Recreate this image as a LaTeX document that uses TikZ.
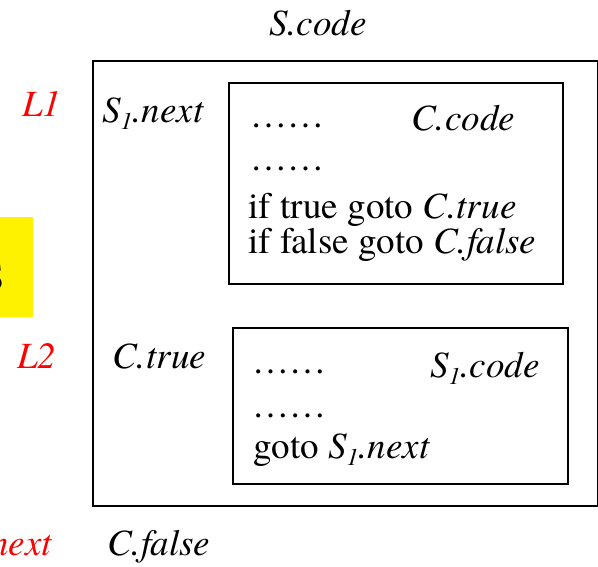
\documentclass[tikz,border=0pt]{standalone}
\usepackage{fontspec}
\setmainfont{TeX Gyre Termes}
\newcommand{\subone}{\raisebox{-7pt}{\fontsize{24}{24}\selectfont\itshape 1}}
\begin{document}
\begin{tikzpicture}[x=1pt,y=-1pt,
  txt/.style={inner sep=0pt,anchor=base west,font=\fontsize{37}{40}\selectfont},
  itx/.style={txt,font=\fontsize{37}{40}\selectfont\itshape},
  lbl/.style={itx,text=red},
  boxr/.style={draw,line width=2.2pt,anchor=north west,inner sep=0pt}]
\useasboundingbox (0,0) rectangle (598,566);
\clip (0,0) rectangle (598,566);
% yellow label on the left, cut off
\node[fill=yellow,anchor=north west,minimum width=40pt,minimum height=100pt,inner sep=0pt] (yel) at (-7,217) {};
\node[inner sep=0pt,anchor=base east,font=\fontsize{42}{42}\selectfont] (ys) at (5,290) {S};
% outer box
\node[boxr,minimum width=505pt,minimum height=445pt] (outer) at (92,60) {};
\node[itx] (scode) at (269,35) {S.code};
% labels
\node[lbl] (l1) at (22,116) {L1};
\node[lbl] (l2) at (17,368) {L2};
\node[lbl,anchor=base east] (snext) at (52,555) {S.next};
\node[itx] (s1next) at (102,122) {S\subone.next};
\node[itx] (ctrue) at (112,368) {C.true};
\node[itx] (cfalse) at (107,555) {C.false};
% box 1
\node[boxr,minimum width=334pt,minimum height=201pt] (box1) at (228,82) {};
\node[txt] (d1) at (250,127) {……};
\node[itx] (ccode) at (411,130) {C.code};
\node[txt] (d2) at (250,170) {……};
\node[txt] (it) at (248,218) {if true goto \textit{C.true}};
\node[txt] (if) at (248,253) {if false goto \textit{C.false}};
% box 2
\node[boxr,minimum width=335pt,minimum height=156pt] (box2) at (232,327) {};
\node[txt] (d3) at (252,373) {……};
\node[itx] (s1code) at (430,377) {S\subone.code};
\node[txt] (d4) at (252,417) {……};
\node[txt] (gt) at (253,458) {goto \textit{S\subone.next}};
\end{tikzpicture}
\end{document}
